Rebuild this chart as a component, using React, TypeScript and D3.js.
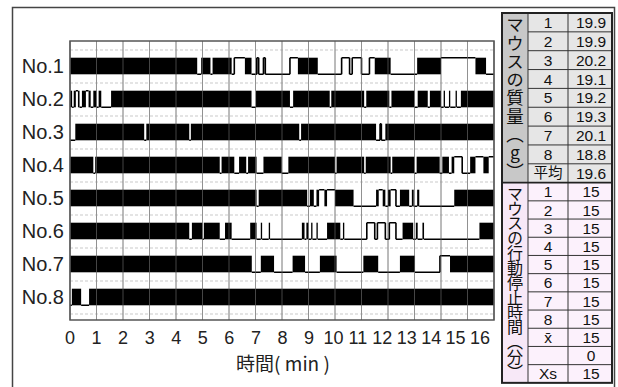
import React from "react";
import * as d3 from "d3";

type Seg = [number, number, "B" | "H" | "L"];

const rowLabels = ["No.1", "No.2", "No.3", "No.4", "No.5", "No.6", "No.7", "No.8"];
const timeTicks = d3.range(0, 17);

const row1: Seg[] = [[0,4.8,"B"],[4.8,4.95,"L"],[4.95,5.3,"B"],[5.3,5.38,"L"],[5.38,6.1,"B"],[6.1,6.2,"L"],[6.2,6.6,"H"],[6.6,6.85,"B"],[6.85,7.05,"L"],[7.05,7.12,"H"],[7.12,7.3,"L"],[7.3,7.37,"H"],[7.37,8.3,"L"],[8.3,8.6,"H"],[8.6,9.35,"B"],[9.35,10.25,"L"],[10.25,10.55,"H"],[10.55,10.65,"L"],[10.65,11.0,"H"],[11.0,11.3,"L"],[11.3,11.5,"H"],[11.5,12.1,"B"],[12.1,13.1,"L"],[13.1,14.0,"B"],[14.0,15.3,"H"],[15.3,15.7,"B"],[15.7,16,"L"]];
const row2: Seg[] = [[0,0.08,"B"],[0.08,0.14,"L"],[0.14,0.22,"B"],[0.22,0.3,"H"],[0.3,0.36,"B"],[0.36,0.45,"L"],[0.45,0.6,"B"],[0.6,0.7,"H"],[0.7,0.78,"B"],[0.78,0.88,"L"],[0.88,1.0,"B"],[1.0,1.08,"L"],[1.08,1.18,"B"],[1.18,1.55,"L"],[1.55,6.85,"B"],[6.85,7.02,"L"],[7.02,8.3,"B"],[8.3,8.42,"L"],[8.42,9.8,"B"],[9.8,9.86,"L"],[9.86,11.1,"B"],[11.1,11.18,"L"],[11.18,12.05,"B"],[12.05,12.13,"L"],[12.13,13.0,"B"],[13.0,13.12,"L"],[13.12,13.5,"B"],[13.5,13.58,"L"],[13.58,14.0,"B"],[14.0,14.1,"L"],[14.1,14.15,"B"],[14.15,14.3,"L"],[14.3,14.35,"B"],[14.35,14.55,"L"],[14.55,14.6,"B"],[14.6,14.75,"L"],[14.75,16,"B"]];
const row3: Seg[] = [[0,0.2,"L"],[0.2,2.8,"B"],[2.8,2.88,"L"],[2.88,4.5,"B"],[4.5,4.56,"L"],[4.56,8.65,"B"],[8.65,8.72,"L"],[8.72,11.55,"B"],[11.55,11.7,"L"],[11.7,11.75,"H"],[11.75,11.9,"L"],[11.9,16,"B"]];
const row4: Seg[] = [[0,0.88,"B"],[0.88,0.95,"L"],[0.95,5.65,"B"],[5.65,5.72,"L"],[5.72,6.2,"B"],[6.2,6.38,"L"],[6.38,6.65,"B"],[6.65,6.72,"L"],[6.72,7.04,"B"],[7.04,7.3,"L"],[7.3,7.99,"B"],[7.99,8.24,"L"],[8.24,10.0,"B"],[10.0,10.06,"L"],[10.06,11.1,"B"],[11.1,11.16,"L"],[11.16,12.1,"B"],[12.1,12.16,"L"],[12.16,13.0,"B"],[13.0,13.08,"L"],[13.08,13.95,"B"],[13.95,14.05,"L"],[14.05,14.3,"B"],[14.3,14.4,"L"],[14.4,14.5,"B"],[14.5,14.8,"H"],[14.8,15.1,"L"],[15.1,15.3,"B"],[15.3,15.6,"H"],[15.6,15.8,"B"],[15.8,16,"H"]];
const row5: Seg[] = [[0,7.04,"B"],[7.04,7.12,"L"],[7.12,8.95,"B"],[8.95,9.05,"L"],[9.05,9.2,"B"],[9.2,9.3,"L"],[9.3,9.4,"B"],[9.4,9.6,"H"],[9.6,9.7,"B"],[9.7,10.0,"H"],[10.0,10.7,"B"],[10.7,11.55,"L"],[11.55,11.65,"B"],[11.65,11.8,"H"],[11.8,11.9,"B"],[11.9,12.0,"L"],[12.0,12.1,"B"],[12.1,12.3,"H"],[12.3,12.45,"L"],[12.45,12.8,"B"],[12.8,12.9,"L"],[12.9,12.97,"B"],[12.97,13.1,"L"],[13.1,13.18,"B"],[13.18,14.5,"L"],[14.5,16,"B"]];
const row6: Seg[] = [[0,4.5,"B"],[4.5,4.6,"L"],[4.6,5.0,"B"],[5.0,5.05,"L"],[5.05,5.65,"B"],[5.65,5.85,"L"],[5.85,6.1,"B"],[6.1,6.8,"L"],[6.8,7.04,"B"],[7.04,7.2,"L"],[7.2,7.25,"B"],[7.25,7.5,"L"],[7.5,7.55,"B"],[7.55,8.75,"L"],[8.75,8.85,"B"],[8.85,8.92,"L"],[8.92,9.0,"B"],[9.0,9.1,"L"],[9.1,9.15,"B"],[9.15,9.3,"L"],[9.3,9.35,"B"],[9.35,9.7,"L"],[9.7,10.2,"B"],[10.2,10.3,"L"],[10.3,10.35,"B"],[10.35,11.2,"L"],[11.2,11.5,"H"],[11.5,11.6,"L"],[11.6,11.9,"H"],[11.9,12.05,"L"],[12.05,12.3,"H"],[12.3,12.55,"L"],[12.55,12.95,"B"],[12.95,13.05,"L"],[13.05,13.12,"B"],[13.12,13.3,"L"],[13.3,13.36,"B"],[13.36,15.45,"L"],[15.45,16,"B"]];
const row7: Seg[] = [[0,6.86,"B"],[6.86,7.2,"L"],[7.2,7.7,"B"],[7.7,8.4,"L"],[8.4,8.87,"B"],[8.87,9.43,"L"],[9.43,10.06,"B"],[10.06,11.07,"L"],[11.07,11.63,"B"],[11.63,12.45,"L"],[12.45,13.02,"B"],[13.02,13.96,"L"],[13.96,14.34,"H"],[14.34,16,"B"]];
const row8: Seg[] = [[0,0.07,"L"],[0.07,0.42,"B"],[0.42,0.72,"L"],[0.72,16,"B"]];
const rowSeries: Seg[][] = [row1, row2, row3, row4, row5, row6, row7, row8];

const massTitle = "マウスの質量（g）";
const massIds = ["1", "2", "3", "4", "5", "6", "7", "8", "平均"];
const massValues = ["19.9", "19.9", "20.2", "19.1", "19.2", "19.3", "20.1", "18.8", "19.6"];
const stopTitle = "マウスの行動停止時間（分）";
const stopIds = ["1", "2", "3", "4", "5", "6", "7", "8", "x̄", "", "Xs"];
const stopValues = ["15", "15", "15", "15", "15", "15", "15", "15", "15", "0", "15"];

const W = 618, H = 387;
const LATIN = "'Liberation Sans', Arial, sans-serif";
const CJK = "'Noto Sans CJK JP', 'Liberation Sans', sans-serif";

export default function App() {
  const x = d3.scaleLinear().domain([0, 16]).range([70, 494]);
  // tick labels in the original are typeset slightly tighter than the grid
  const xl = d3.scaleLinear().domain([0, 9, 16]).range([70, 309, 480]);
  const y = d3.scalePoint<string>().domain(rowLabels).range([66, 297]);
  const half = 8.3;
  const plotTop = 41, plotBottom = 320;

  const rows = rowLabels.map((lab, i) => {
    const cy = y(lab)!;
    const top = cy - half, bot = cy + half;
    const segs = rowSeries[i];
    const rects = segs.filter(s => s[2] === "B");
    let d = "";
    segs.forEach((s, k) => {
      if (s[2] === "B") return;
      const ly = s[2] === "H" ? top : bot;
      d += `M${x(s[0])},${ly}H${x(s[1])}`;
      const next = segs[k + 1];
      if (next && next[2] !== "B" && next[2] !== s[2]) {
        d += `M${x(s[1])},${top}V${bot}`;
      }
    });
    return (
      <g key={lab}>
        {rects.map((s, k) => (
          <rect key={k} x={x(s[0])} y={top} width={x(s[1]) - x(s[0])} height={bot - top} fill="#000" />
        ))}
        <path d={d} fill="none" stroke="#000" strokeWidth={1.6} />
        <text x={64} y={cy} dy="0.36em" textAnchor="end" fontSize={20} fontFamily={LATIN} fill="#222">{lab}</text>
      </g>
    );
  });

  // table geometry
  const c0 = 502, c1 = 528, c2 = 568, c3 = 612;
  const t0 = 13;
  const h1 = 18.85, h2 = 18.2;
  const s1Bottom = t0 + massIds.length * h1;
  const s2Bottom = s1Bottom + stopIds.length * h2;

  const section = (ids: string[], vals: string[], top: number, rh: number, labFill: string, cellFill: string, title: string, titleSize: number) => {
    const bottom = top + ids.length * rh;
    return (
      <g>
        <rect x={c0} y={top} width={c1 - c0} height={bottom - top} fill={labFill} />
        <rect x={c1} y={top} width={c3 - c1} height={bottom - top} fill={cellFill} />
        {ids.map((id, i) => {
          const ry = top + i * rh;
          const cyy = ry + rh / 2;
          const isCjk = /[\u3000-\u9fff]/.test(id);
          return (
            <g key={i}>
              {i > 0 && <line x1={c1} x2={c3} y1={ry} y2={ry} stroke="#333" strokeWidth={1} />}
              <text x={(c1 + c2) / 2} y={cyy} dy="0.36em" textAnchor="middle" fontSize={isCjk ? 14.5 : 15.5} fontFamily={isCjk ? CJK : LATIN} fill="#111">{id}</text>
              <text x={(c2 + c3) / 2 + 1} y={cyy} dy="0.36em" textAnchor="middle" fontSize={15.5} fontFamily={LATIN} fill="#111">{vals[i]}</text>
            </g>
          );
        })}
        <line x1={c1} x2={c1} y1={top} y2={bottom} stroke="#333" strokeWidth={1} />
        <line x1={c2} x2={c2} y1={top} y2={bottom} stroke="#333" strokeWidth={1} />
        <text
          x={(c0 + c1) / 2}
          y={top + 3}
          writingMode="vertical-rl"
          style={{ textOrientation: "upright" } as any}
          textLength={bottom - top - 6}
          lengthAdjust="spacing"
          fontSize={titleSize}
          fontFamily={CJK}
          fill="#111"
        >{title}</text>
      </g>
    );
  };

  return (
    <div style={{ position: "absolute", left: 0, top: 0, width: W, height: H, background: "#fff" }}>
      <svg width={W} height={H} viewBox={`0 0 ${W} ${H}`} style={{ display: "block" }}>
        <rect x={0} y={0} width={W} height={H} fill="#fff" />
        {/* outer frame */}
        <rect x={12.5} y={7.5} width={602} height={400} fill="none" stroke="#444" strokeWidth={1.5} />
        {/* faint horizontal smears */}
        {d3.range(0, 9).map(i => (
          <line key={i} x1={x(0)} x2={x(16)} y1={50 + 33 * i} y2={50 + 33 * i} stroke="#dcdcdc" strokeWidth={1.5} strokeDasharray="3,2" />
        ))}
        {/* vertical grid */}
        {timeTicks.map(t => (
          <line key={t} x1={x(t)} x2={x(t)} y1={plotTop} y2={plotBottom} stroke="#8a8a8a" strokeWidth={1} />
        ))}
        {rows}
        {/* grid showing through the bursts */}
        {timeTicks.map(t => (
          <line key={"o" + t} x1={x(t)} x2={x(t)} y1={plotTop} y2={plotBottom} stroke="#9a9a9a" strokeOpacity={0.45} strokeWidth={1} />
        ))}
        <rect x={x(0)} y={plotTop} width={x(16) - x(0)} height={plotBottom - plotTop} fill="none" stroke="#555" strokeWidth={1.5} />
        {/* tick labels */}
        {timeTicks.map(t => (
          <text key={t} x={xl(t)} y={344} textAnchor="middle" fontSize={18} fontFamily={LATIN} fill="#222">{t}</text>
        ))}
        <text x={283} y={371} textAnchor="middle" fontSize={19} fontFamily={CJK} fill="#222">時間( min )</text>
        {/* table */}
        {section(massIds, massValues, t0, h1, "#c8c8c8", "#e6e6e6", massTitle, 17.5)}
        {section(stopIds, stopValues, s1Bottom, h2, "#f7e8f7", "#fcf1fc", stopTitle, 16)}
        <line x1={c0} x2={c3} y1={s1Bottom} y2={s1Bottom} stroke="#222" strokeWidth={1.8} />
        <rect x={c0} y={t0} width={c3 - c0} height={s2Bottom - t0} fill="none" stroke="#222" strokeWidth={2} />
      </svg>
    </div>
  );
}
